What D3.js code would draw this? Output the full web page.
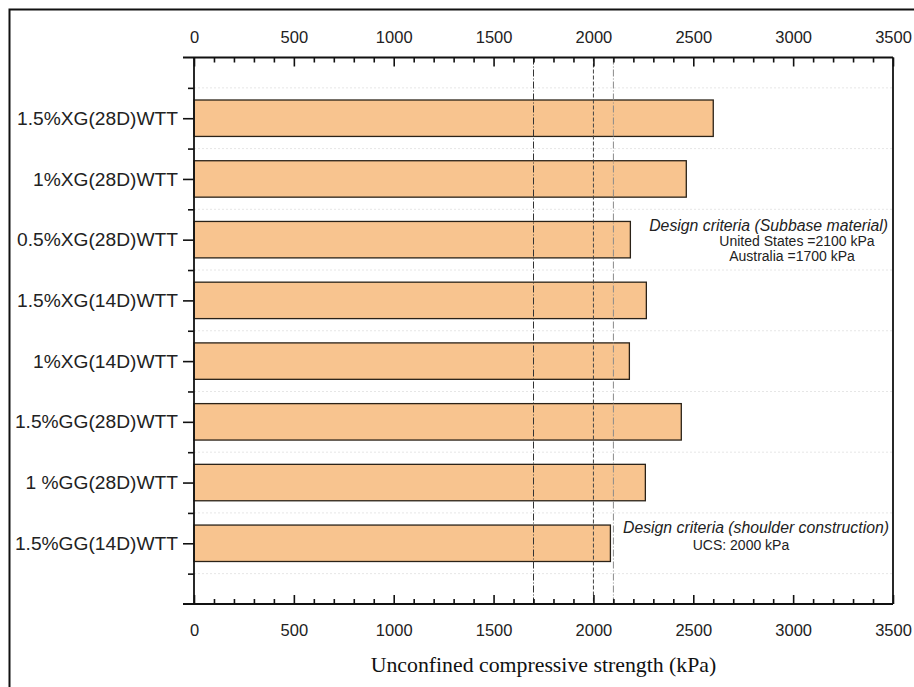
<!DOCTYPE html>
<html>
<head>
<meta charset="utf-8">
<script src="https://cdn.jsdelivr.net/npm/d3@7"></script>
<style>
  html, body { margin: 0; padding: 0; background: #fff; }
  svg { display: block; }
  .axis text { font-family: Arial, "Liberation Sans", sans-serif; fill: #222; }
  .axis path, .axis line { stroke: #111; }
</style>
</head>
<body>
<div id="chart"></div>
<script>
// Unconfined compressive strength of stabilised samples (kPa)
const categories = [
  "1.5%XG(28D)WTT",
  "1%XG(28D)WTT",
  "0.5%XG(28D)WTT",
  "1.5%XG(14D)WTT",
  "1%XG(14D)WTT",
  "1.5%GG(28D)WTT",
  "1 %GG(28D)WTT",
  "1.5%GG(14D)WTT"
];
const ucsValues = [2600, 2465, 2185, 2265, 2180, 2440, 2260, 2085];

const xMajorTicks = [0, 500, 1000, 1500, 2000, 2500, 3000, 3500];
const xMinorTicks = d3.range(0, 3501, 100).filter(v => v % 500 !== 0);

// Reference criteria lines (kPa): Australia, shoulder UCS, United States
const criteriaValues = [1700, 2000, 2100];
const criteriaStyles = [
  { color: "#333", dash: "7,2,1,2" },
  { color: "#444", dash: "4,2" },
  { color: "#8a8a8a", dash: "7,2,1,2" }
];

const width = 914, height = 687;
const svg = d3.select("#chart").append("svg")
  .attr("width", width).attr("height", height);

// Outer frame
svg.append("rect")
  .attr("x", 9.5).attr("y", 9.5)
  .attr("width", 930).attr("height", 720)
  .attr("fill", "none").attr("stroke", "#111").attr("stroke-width", 2);

const x = d3.scaleLinear().domain([0, 3500]).range([194, 893]);
const y = d3.scaleLinear().domain([0, 9]).range([57.5, 604]);
const barH = 0.6;

const [xl, xr] = x.range();
const [yt, yb] = y.range();

// Faint horizontal grid between categories
const halfPos = d3.range(0.5, 9, 1);
svg.append("g").selectAll("line").data(halfPos).join("line")
  .attr("x1", xl).attr("x2", xr)
  .attr("y1", d => y(d)).attr("y2", d => y(d))
  .attr("stroke", "#e6e6e6").attr("stroke-width", 1)
  .attr("stroke-dasharray", "2,2");

// Bars
svg.append("g").selectAll("rect").data(categories).join("rect")
  .attr("x", x(0))
  .attr("y", (d, i) => y(i + 1 - barH / 2))
  .attr("width", (d, i) => x(ucsValues[i]) - x(0))
  .attr("height", y(barH) - y(0))
  .attr("fill", "#f8c48f")
  .attr("stroke", "#2a2218")
  .attr("stroke-width", 1.3);

// Criteria lines
svg.append("g").selectAll("line").data(criteriaValues).join("line")
  .attr("x1", d => x(d)).attr("x2", d => x(d))
  .attr("y1", yt).attr("y2", yb)
  .attr("stroke", (d, i) => criteriaStyles[i].color)
  .attr("stroke-width", 1)
  .attr("stroke-dasharray", (d, i) => criteriaStyles[i].dash);

// Top axis
const topMajor = d3.axisTop(x).tickValues(xMajorTicks).tickSize(-9).tickPadding(15)
  .tickFormat(d3.format("d"));
const topMinor = d3.axisTop(x).tickValues(xMinorTicks).tickSize(-5).tickFormat("");
const gTop = svg.append("g").attr("class", "axis").attr("transform", `translate(0,${yt})`);
gTop.call(topMajor);
gTop.append("g").call(topMinor);
gTop.selectAll(".domain").remove();
gTop.selectAll("line").attr("stroke-width", 1.6);
gTop.selectAll("text").attr("font-size", 16.5);

// Bottom axis
const botMajor = d3.axisBottom(x).tickValues(xMajorTicks).tickSize(-9).tickPadding(20)
  .tickFormat(d3.format("d"));
const botMinor = d3.axisBottom(x).tickValues(xMinorTicks).tickSize(-5).tickFormat("");
const gBot = svg.append("g").attr("class", "axis").attr("transform", `translate(0,${yb})`);
gBot.call(botMajor);
gBot.append("g").call(botMinor);
gBot.selectAll(".domain").remove();
gBot.selectAll("line").attr("stroke-width", 1.6);
gBot.selectAll("text").attr("font-size", 16.5);

// Left axis with category labels and minor ticks
const leftMajor = d3.axisLeft(y).tickValues(d3.range(1, categories.length + 1))
  .tickSize(11).tickPadding(5).tickSizeOuter(0)
  .tickFormat(d => categories[d - 1]);
const leftMinor = d3.axisLeft(y).tickValues(halfPos).tickSize(6).tickFormat("");
const gLeft = svg.append("g").attr("class", "axis").attr("transform", `translate(${xl},0)`);
gLeft.call(leftMajor);
gLeft.append("g").call(leftMinor);
gLeft.selectAll(".domain").remove();
gLeft.selectAll("line").attr("stroke-width", 1.6);
gLeft.selectAll("text").attr("font-size", 19.2);

// Frame lines of the plot
const frame = svg.append("g").attr("stroke", "#111").attr("stroke-width", 1.8);
frame.append("line").attr("x1", xl - 11).attr("x2", xr).attr("y1", yt).attr("y2", yt);
frame.append("line").attr("x1", xl - 11).attr("x2", xr).attr("y1", yb).attr("y2", yb);
frame.append("line").attr("x1", xl).attr("x2", xl).attr("y1", yt).attr("y2", yb);
frame.append("line").attr("x1", xr).attr("x2", xr).attr("y1", yt).attr("y2", yb);

// Annotations
const ann = svg.append("g").attr("font-family", "Arial, 'Liberation Sans', sans-serif").attr("fill", "#222");
ann.append("text").attr("x", 888).attr("y", 231).attr("text-anchor", "end")
  .attr("font-style", "italic").attr("font-size", 15.8)
  .text("Design criteria (Subbase material)");
ann.append("text").attr("x", 797).attr("y", 246).attr("text-anchor", "middle")
  .attr("font-size", 14).text("United States =2100 kPa");
ann.append("text").attr("x", 792).attr("y", 261).attr("text-anchor", "middle")
  .attr("font-size", 14).text("Australia =1700 kPa");
ann.append("text").attr("x", 889).attr("y", 533).attr("text-anchor", "end")
  .attr("font-style", "italic").attr("font-size", 15.8)
  .text("Design criteria (shoulder construction)");
ann.append("text").attr("x", 741).attr("y", 550).attr("text-anchor", "middle")
  .attr("font-size", 14).text("UCS: 2000 kPa");

// Axis title
svg.append("text")
  .attr("x", (xl + xr) / 2).attr("y", 672)
  .attr("text-anchor", "middle")
  .attr("font-family", "'Liberation Serif', 'Times New Roman', serif")
  .attr("font-size", 21.8).attr("fill", "#111")
  .text("Unconfined compressive strength (kPa)");
</script>
</body>
</html>
